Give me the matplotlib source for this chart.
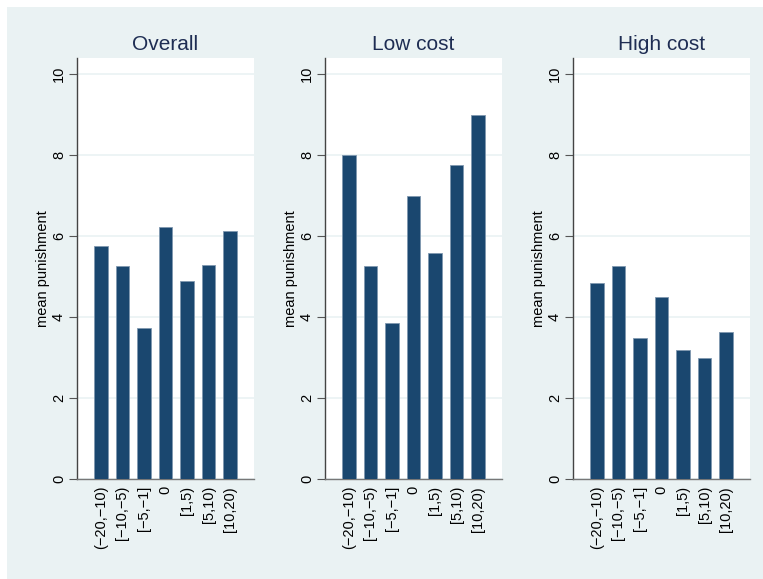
import matplotlib
matplotlib.use("Agg")
import matplotlib.pyplot as plt
from matplotlib.patches import Rectangle

plt.rcParams['font.family'] = ['Liberation Sans', 'DejaVu Sans']

categories = ["(\u221220,\u221210)", "[\u221210,\u22125)", "[\u22125,\u22121]", "0", "[1,5)", "[5,10)", "[10,20)"]
titles = ["Overall", "Low cost", "High cost"]
overall = [5.75, 5.27, 3.72, 6.23, 4.90, 5.28, 6.13]
low_cost = [8.00, 5.27, 3.85, 7.00, 5.58, 7.75, 9.00]
high_cost = [4.83, 5.27, 3.49, 4.50, 3.18, 3.00, 3.62]
series = [overall, low_cost, high_cost]
yticks = [0, 2, 4, 6, 8, 10]

W, H = 763, 579
bg = '#EAF2F3'
bar_color = '#1A476F'
fig = plt.figure(figsize=(W / 100, H / 100), dpi=100)
fig.patch.set_facecolor(bg)
fig.patches.append(Rectangle((0, 1 - 7 / H), 1, 7 / H, transform=fig.transFigure,
                             facecolor='white', edgecolor='none', zorder=-10))
fig.patches.append(Rectangle((0, 0), 7 / W, 1, transform=fig.transFigure,
                             facecolor='white', edgecolor='none', zorder=-10))

lefts = [77, 325, 573]
pw = 177
top, bottom = 58, 479

for left, title, vals in zip(lefts, titles, series):
    ax = fig.add_axes([left / W, 1 - bottom / H, pw / W, (bottom - top) / H])
    ax.set_facecolor('white')
    x = list(range(len(categories)))
    ax.bar(x, vals, width=0.63, color=bar_color, edgecolor='#7F98B0', linewidth=0.6, zorder=3)
    ax.set_xlim(-1.1, 7.1)
    ax.set_ylim(0, (bottom - top) / 40.5)
    ax.set_yticks(yticks)
    ax.set_yticklabels([str(t) for t in yticks], rotation=90, va='center', fontsize=10.5)
    ax.set_xticks(x)
    ax.set_xticklabels(categories, rotation=90, fontsize=10.5)
    ax.tick_params(axis='x', length=0, pad=5)
    ax.tick_params(axis='y', length=6, width=0.8, color='#555555', pad=2)
    ax.grid(axis='y', color='#EAF2F3', linewidth=1.2, zorder=0)
    for s in ['top', 'right']:
        ax.spines[s].set_visible(False)
    ax.spines['left'].set_color('#444444')
    ax.spines['left'].set_linewidth(1.0)
    ax.spines['bottom'].set_color('#777777')
    ax.spines['bottom'].set_linewidth(1.0)
    ax.set_ylabel("mean punishment", fontsize=10.5, labelpad=1)
    ax.set_title(title, fontsize=15, color='#1E2D53', pad=6)

fig.savefig("out.png", dpi=100, facecolor=fig.get_facecolor())
